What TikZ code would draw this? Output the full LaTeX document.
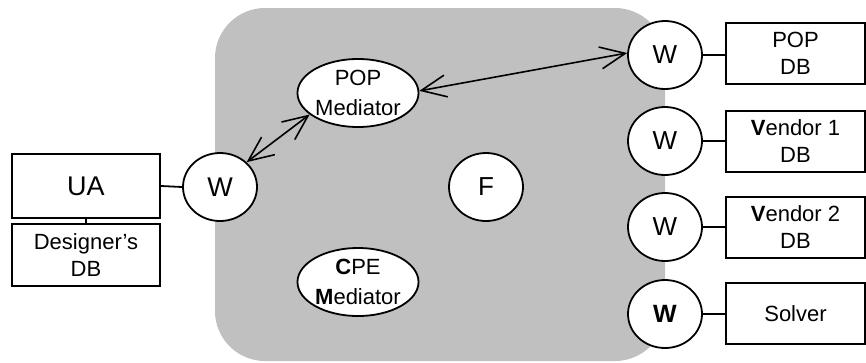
\documentclass[tikz,border=0pt]{standalone}
\usepackage{fontspec}
\setmainfont{Liberation Sans}
\usetikzlibrary{shapes.geometric,arrows.meta}
\definecolor{zone}{HTML}{C0C0C0}
\tikzset{
  box/.style={draw, line width=2pt, fill=white, minimum width=139pt, minimum height=61pt,
    inner sep=0pt, align=center, font=\fontsize{22}{27}\selectfont},
  wrap/.style={draw, line width=1.8pt, fill=white, ellipse, minimum width=74pt, minimum height=68pt,
    inner sep=0pt, font=\fontsize{26}{27}\selectfont},
  med/.style={draw, line width=1.8pt, fill=white, ellipse, minimum width=119pt, minimum height=68pt,
    inner sep=0pt, align=center, font=\fontsize{22}{30}\selectfont},
  link/.style={line width=1.8pt},
  flow/.style={line width=1.6pt, {Straight Barb[length=25pt,width=22pt]}-{Straight Barb[length=25pt,width=22pt]}},
}
\begin{document}
\begin{tikzpicture}[x=1pt,y=-1pt]
\useasboundingbox (0,0) rectangle (866,362);
% shaded federation area
\fill[zone, rounded corners=50pt] (215,8) rectangle (665,361);

% user side
\node[box, minimum width=148pt, minimum height=64pt, font=\fontsize{27}{30}\selectfont] (ua) at (86,186) {UA};
\node[box, minimum width=148pt, minimum height=62pt] (ddb) at (86,255) {Designer’s\\DB};
\node[wrap, font=\fontsize{27}{30}\selectfont] (wl) at (220,187) {W};

% mediators and federation node
\node[med] (popm) at (358,93) {POP\\Mediator};
\node[med] (cpem) at (358,282) {\textbf{C}PE\\\textbf{M}ediator};
\node[wrap] (f) at (486,187) {F};

% wrapped sources
\node[wrap] (w1) at (665,55) {W};
\node[wrap] (w2) at (665,141) {W};
\node[wrap] (w3) at (665,227) {W};
\node[wrap, font=\fontsize{25}{26}\selectfont\bfseries] (w4) at (665,314) {W};

\node[box] (popdb) at (795.5,53.5) {POP\\DB};
\node[box] (v1db) at (795.5,141) {\textbf{V}endor 1\\DB};
\node[box] (v2db) at (795.5,227.5) {\textbf{V}endor 2\\DB};
\node[box] (solver) at (795.5,313.5) {Solver};

% connections
\draw[link] (ua.south) -- (ddb.north);
\draw[link] (ua.east) -- (wl.west);
\draw[link] (w1.east) -- (popdb.west |- w1.east);
\draw[link] (w2.east) -- (v1db.west |- w2.east);
\draw[link] (w3.east) -- (v2db.west |- w3.east);
\draw[link] (w4.east) -- (solver.west |- w4.east);

\draw[flow] (wl.43) -- (popm.204);
\draw[flow] (popm.2) -- (w1.177);
\end{tikzpicture}
\end{document}
